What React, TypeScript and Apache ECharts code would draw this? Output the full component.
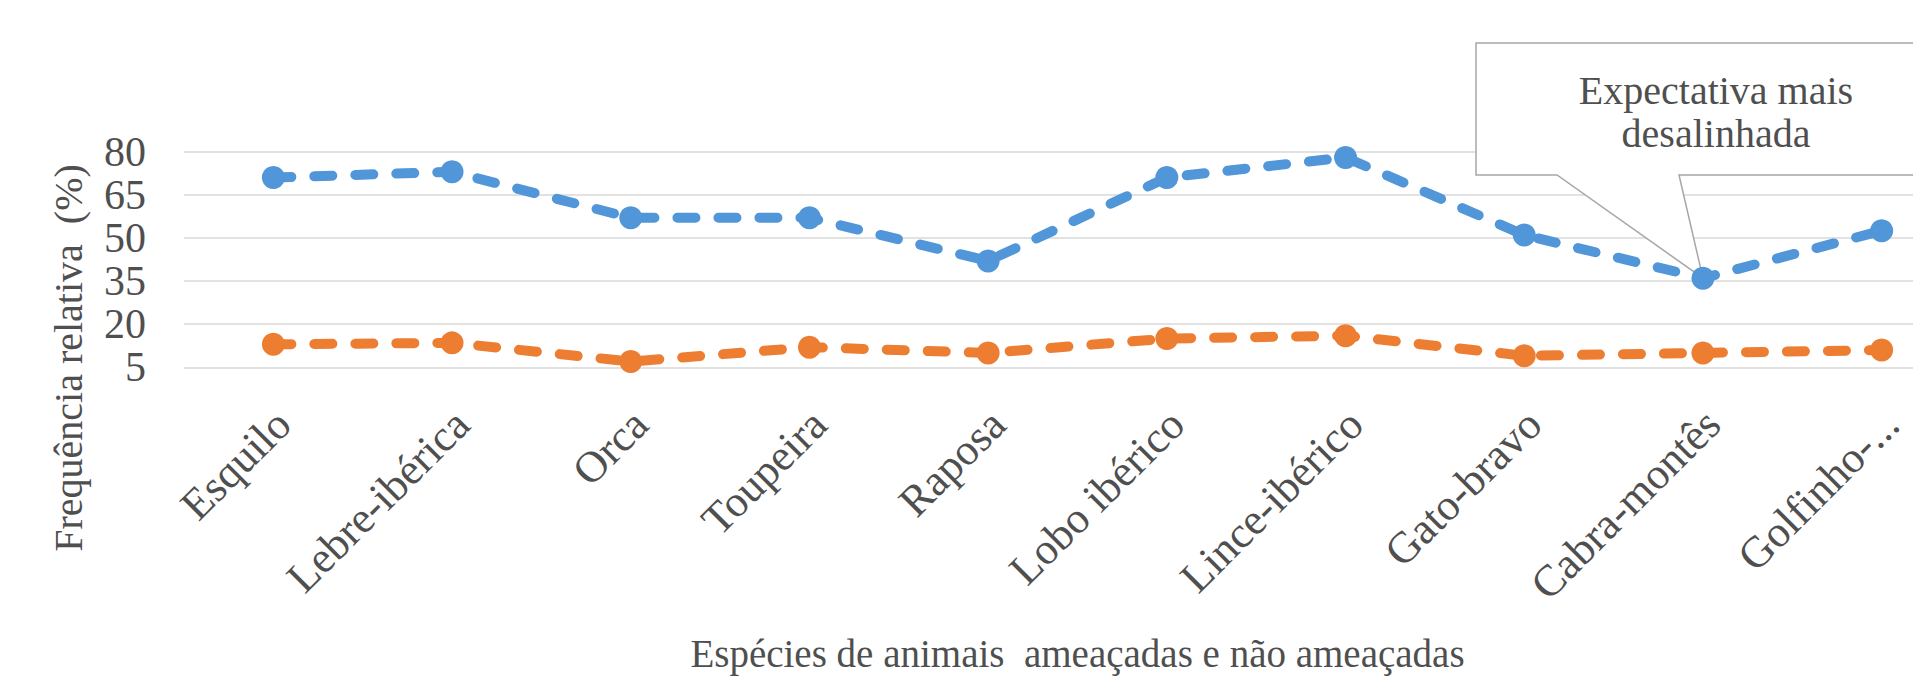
import React, { useEffect, useRef } from "react";
import * as echarts from "echarts";

const categories = [
  "Esquilo",
  "Lebre-ibérica",
  "Orca",
  "Toupeira",
  "Raposa",
  "Lobo ibérico",
  "Lince-ibérico",
  "Gato-bravo",
  "Cabra-montês",
  "Golfinho-...",
];
const expectativa = [71, 73, 57, 57, 42, 71, 78, 51, 36, 52.5];
const realidade = [13, 13.5, 7, 12, 10, 15, 16, 9, 10, 11];
const yTicks = [5, 20, 35, 50, 65, 80];
const yTitle = "Frequência relativa  (%)";
const xTitle = "Espécies de animais  ameaçadas e não ameaçadas";
const calloutLines = ["Expectativa mais", "desalinhada"];
const calloutIndex = 8;

const FONT = "'Liberation Serif', 'Times New Roman', serif";
const TEXT = "#4f4f4f";

export default function App() {
  const ref = useRef<HTMLDivElement>(null);
  useEffect(() => {
    const el = ref.current!;
    const chart = echarts.init(el, null, { renderer: "svg" });
    const lineSeries = (name: string, data: number[], color: string) => ({
      name,
      type: "line",
      data,
      symbol: "circle",
      symbolSize: 23,
      z: 3,
      itemStyle: { color },
      lineStyle: { color, width: 10, type: [18, 23], cap: "round" },
    });
    chart.setOption({
      animation: false,
      backgroundColor: "#ffffff",
      textStyle: { fontFamily: FONT },
      grid: {
        left: 184,
        top: 151.7,
        width: 1787,
        height: 215.6,
        containLabel: false,
        outerBoundsMode: "none",
      },
      xAxis: {
        type: "category",
        data: categories,
        boundaryGap: true,
        axisLine: { show: false },
        axisTick: { show: false },
        axisLabel: {
          interval: 0,
          rotate: 45,
          margin: 40,
          verticalAlign: "top",
          lineHeight: 28,
          fontSize: 44,
          fontFamily: FONT,
          color: TEXT,
          hideOverlap: false,
        },
        name: xTitle,
        nameLocation: "middle",
        nameGap: 267,
        nameMoveOverlap: false,
        nameTextStyle: { fontSize: 39, fontFamily: FONT, color: TEXT },
      },
      yAxis: {
        type: "value",
        min: yTicks[0],
        max: yTicks[yTicks.length - 1],
        interval: yTicks[1] - yTicks[0],
        axisLine: { show: false },
        axisTick: { show: false },
        axisLabel: { fontSize: 42, margin: 38, fontFamily: FONT, color: TEXT },
        splitLine: { lineStyle: { color: "#d9d9d9", width: 1.5 } },
      },
      series: [
        lineSeries("Expectativa", expectativa, "#5096d8"),
        lineSeries("Realidade", realidade, "#ED7D31"),
      ],
    });
    const tip = chart.convertToPixel({ xAxisIndex: 0, yAxisIndex: 0 }, [
      calloutIndex,
      expectativa[calloutIndex],
    ]) as number[];
    chart.setOption({
      graphic: [
        {
          type: "polygon",
          z: 1,
          shape: {
            points: [
              [1476, 43],
              [1995, 43],
              [1995, 175],
              [1679, 175],
              [tip[0], tip[1]],
              [1557, 175],
              [1476, 175],
            ],
          },
          style: { fill: "#ffffff", stroke: "#a6a6a6", lineWidth: 1.5 },
        },
        ...calloutLines.map((t, i) => ({
          type: "text",
          z: 1,
          z2: 10,
          x: 1716,
          y: 90 + i * 43,
          style: {
            text: t,
            font: `40px ${FONT}`,
            fill: TEXT,
            align: "center",
            verticalAlign: "middle",
            textAlign: "center",
            textVerticalAlign: "middle",
          },
        })),
        {
          type: "text",
          z: 1,
          x: 68,
          y: 358,
          rotation: Math.PI / 2,
          style: {
            text: yTitle,
            font: `40px ${FONT}`,
            fill: TEXT,
            align: "center",
            verticalAlign: "middle",
            textAlign: "center",
            textVerticalAlign: "middle",
          },
        },
      ],
    });
    return () => chart.dispose();
  }, []);
  return (
    <div
      ref={ref}
      style={{ position: "fixed", left: 0, top: 0, width: 1913, height: 684, background: "#fff" }}
    />
  );
}
